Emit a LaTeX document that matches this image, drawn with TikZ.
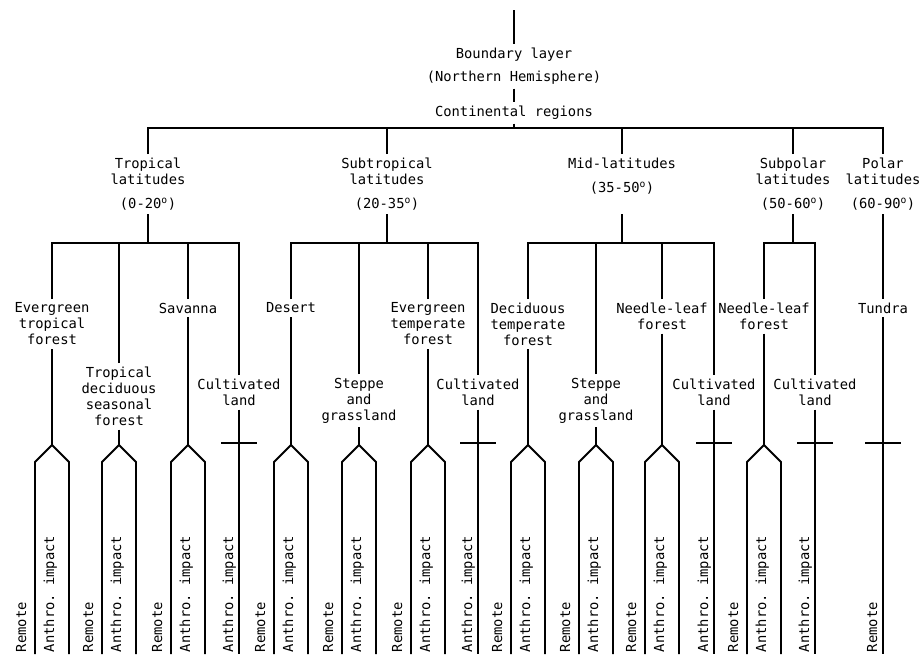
\documentclass[tikz,border=0pt]{standalone}
\usepackage{fontspec}
\setmonofont{DejaVu Sans Mono}
\begin{document}
\begin{tikzpicture}[
			x=1pt, y=-1pt,
			font=\ttfamily\fontsize{13.8}{16}\selectfont,
			line width=1.8pt,
			head/.style={inner sep=3pt},
			region/.style={align=center, anchor=north, inner sep=3pt},
			leaf/.style={align=center, anchor=north, inner sep=3pt},
			vtext/.style={rotate=90, anchor=base west, inner sep=0pt},
			tick/.style={line width=1.5pt}
			]
			\useasboundingbox (0,0) rectangle (921,654);
			\coordinate (base) at (0,654);
			
			% Top
			\coordinate (top) at (514,10);
			\node[head] (bl) at (514,55) {Boundary layer};
			\node[head] (nh) at (514,78) {(Northern Hemisphere)};
			\node[head] (cont) at (514,113) {Continental regions};
			\coordinate (bar) at (514,128);
			
			% Latitude bands
			\node[region] (trop) at (148,154) {Tropical\\latitudes\\[8pt](0-20\textsuperscript{o})};
			\node[region] (sub) at (387,154) {Subtropical\\latitudes\\[8pt](20-35\textsuperscript{o})};
			\node[region] (mid) at (622,154) {Mid-latitudes\\[8pt](35-50\textsuperscript{o})};
			\node[region] (spol) at (793,154) {Subpolar\\latitudes\\[8pt](50-60\textsuperscript{o})};
			\node[region] (pol) at (883,154) {Polar\\latitudes\\[8pt](60-90\textsuperscript{o})};
			
			% Sub-bars
			\coordinate (tb) at (148,243);
			\coordinate (sb) at (387,243);
			\coordinate (mb) at (622,243);
			\coordinate (pb) at (793,243);
			
			% Vegetation types
			\node[leaf] (etf) at (52,299) {Evergreen\\tropical\\forest};
			\node[leaf] (tds) at (119,363) {Tropical\\deciduous\\seasonal\\forest};
			\node[leaf] (sav) at (188,299) {Savanna};
			\node[leaf] (tcl) at (239,375) {Cultivated\\land};
			\node[leaf] (des) at (291,299) {Desert};
			\node[leaf] (sst) at (359,374) {Steppe\\and\\grassland};
			\node[leaf] (etef) at (428,299) {Evergreen\\temperate\\forest};
			\node[leaf] (scl) at (478,375) {Cultivated\\land};
			\node[leaf] (dtf) at (528,299) {Deciduous\\temperate\\forest};
			\node[leaf] (mst) at (596,374) {Steppe\\and\\grassland};
			\node[leaf] (mnl) at (662,299) {Needle-leaf\\forest};
			\node[leaf] (mcl) at (714,375) {Cultivated\\land};
			\node[leaf] (pnl) at (764,299) {Needle-leaf\\forest};
			\node[leaf] (pcl) at (815,375) {Cultivated\\land};
			\node[leaf] (tun) at (883,299) {Tundra};
			
			% Fork and cross points
			\coordinate (f1) at (52,445);
			\coordinate (f2) at (119,445);
			\coordinate (f3) at (188,445);
			\coordinate (c4) at (239,443);
			\coordinate (f5) at (291,445);
			\coordinate (f6) at (359,445);
			\coordinate (f7) at (428,445);
			\coordinate (c8) at (478,443);
			\coordinate (f9) at (528,445);
			\coordinate (f10) at (596,445);
			\coordinate (f11) at (662,445);
			\coordinate (c12) at (714,443);
			\coordinate (f13) at (764,445);
			\coordinate (c14) at (815,443);
			\coordinate (c15) at (883,443);
			
			% Trunk
			\draw (top) -- (bl);
			\draw (nh) -- (cont);
			\draw (cont) -- (bar);
			\draw (trop.north) |- (bar) -| (pol.north);
			\draw (sub.north) -- (sub.north |- bar);
			\draw (mid.north) -- (mid.north |- bar);
			\draw (spol.north) -- (spol.north |- bar);
			
			% Bands to types
			\draw (trop.south) -- (tb);
			\draw (sub.south) -- (sb);
			\draw (mid.south |- trop.south) -- (mb);
			\draw (spol.south) -- (pb);
			\draw (pol.south) -- (tun.north);
			\draw (etf.north) |- (tb) -| (tcl.north);
			\draw (tds.north) -- (tds.north |- tb);
			\draw (sav.north) -- (sav.north |- tb);
			\draw (des.north) |- (sb) -| (scl.north);
			\draw (sst.north) -- (sst.north |- sb);
			\draw (etef.north) -- (etef.north |- sb);
			\draw (dtf.north) |- (mb) -| (mcl.north);
			\draw (mst.north) -- (mst.north |- mb);
			\draw (mnl.north) -- (mnl.north |- mb);
			\draw (pnl.north) |- (pb) -| (pcl.north);
			
			% Types to forks
			\draw (etf.south) -- (f1);
			\draw (tds.south) -- (f2);
			\draw (sav.south) -- (f3);
			\draw (des.south) -- (f5);
			\draw (sst.south) -- (f6);
			\draw (etef.south) -- (f7);
			\draw (dtf.south) -- (f9);
			\draw (mst.south) -- (f10);
			\draw (mnl.south) -- (f11);
			\draw (pnl.south) -- (f13);
			
			% Forks
			\draw (f1) -- ++(-17,17) -- ++(0,192) (f1) -- ++(17,17) -- ++(0,192);
			\draw (f2) -- ++(-17,17) -- ++(0,192) (f2) -- ++(17,17) -- ++(0,192);
			\draw (f3) -- ++(-17,17) -- ++(0,192) (f3) -- ++(17,17) -- ++(0,192);
			\draw (f5) -- ++(-17,17) -- ++(0,192) (f5) -- ++(17,17) -- ++(0,192);
			\draw (f6) -- ++(-17,17) -- ++(0,192) (f6) -- ++(17,17) -- ++(0,192);
			\draw (f7) -- ++(-17,17) -- ++(0,192) (f7) -- ++(17,17) -- ++(0,192);
			\draw (f9) -- ++(-17,17) -- ++(0,192) (f9) -- ++(17,17) -- ++(0,192);
			\draw (f10) -- ++(-17,17) -- ++(0,192) (f10) -- ++(17,17) -- ++(0,192);
			\draw (f11) -- ++(-17,17) -- ++(0,192) (f11) -- ++(17,17) -- ++(0,192);
			\draw (f13) -- ++(-17,17) -- ++(0,192) (f13) -- ++(17,17) -- ++(0,192);
			
			% Crosses
			\draw (tcl.south) -- (tcl.south |- base);
			\draw (scl.south) -- (scl.south |- base);
			\draw (mcl.south) -- (mcl.south |- base);
			\draw (pcl.south) -- (pcl.south |- base);
			\draw (tun.south) -- (tun.south |- base);
			\draw[tick] ([xshift=-18pt]c4) -- ([xshift=18pt]c4);
			\draw[tick] ([xshift=-18pt]c8) -- ([xshift=18pt]c8);
			\draw[tick] ([xshift=-18pt]c12) -- ([xshift=18pt]c12);
			\draw[tick] ([xshift=-18pt]c14) -- ([xshift=18pt]c14);
			\draw[tick] ([xshift=-18pt]c15) -- ([xshift=18pt]c15);
			
			% Bottom labels
			\node[vtext] (r1) at (26,653) {Remote};
			\node[vtext] (a1) at (54,653) {Anthro. impact};
			\node[vtext] (r2) at (93,653) {Remote};
			\node[vtext] (a2) at (121,653) {Anthro. impact};
			\node[vtext] (r3) at (162,653) {Remote};
			\node[vtext] (a3) at (190,653) {Anthro. impact};
			\node[vtext] (a4) at (233,653) {Anthro. impact};
			\node[vtext] (r5) at (265,653) {Remote};
			\node[vtext] (a5) at (293,653) {Anthro. impact};
			\node[vtext] (r6) at (333,653) {Remote};
			\node[vtext] (a6) at (361,653) {Anthro. impact};
			\node[vtext] (r7) at (402,653) {Remote};
			\node[vtext] (a7) at (430,653) {Anthro. impact};
			\node[vtext] (a8) at (472,653) {Anthro. impact};
			\node[vtext] (r9) at (502,653) {Remote};
			\node[vtext] (a9) at (530,653) {Anthro. impact};
			\node[vtext] (r10) at (570,653) {Remote};
			\node[vtext] (a10) at (598,653) {Anthro. impact};
			\node[vtext] (r11) at (636,653) {Remote};
			\node[vtext] (a11) at (664,653) {Anthro. impact};
			\node[vtext] (a12) at (708,653) {Anthro. impact};
			\node[vtext] (r13) at (738,653) {Remote};
			\node[vtext] (a13) at (766,653) {Anthro. impact};
			\node[vtext] (a14) at (809,653) {Anthro. impact};
			\node[vtext] (r15) at (877,653) {Remote};
			
		\end{tikzpicture}
\end{document}
